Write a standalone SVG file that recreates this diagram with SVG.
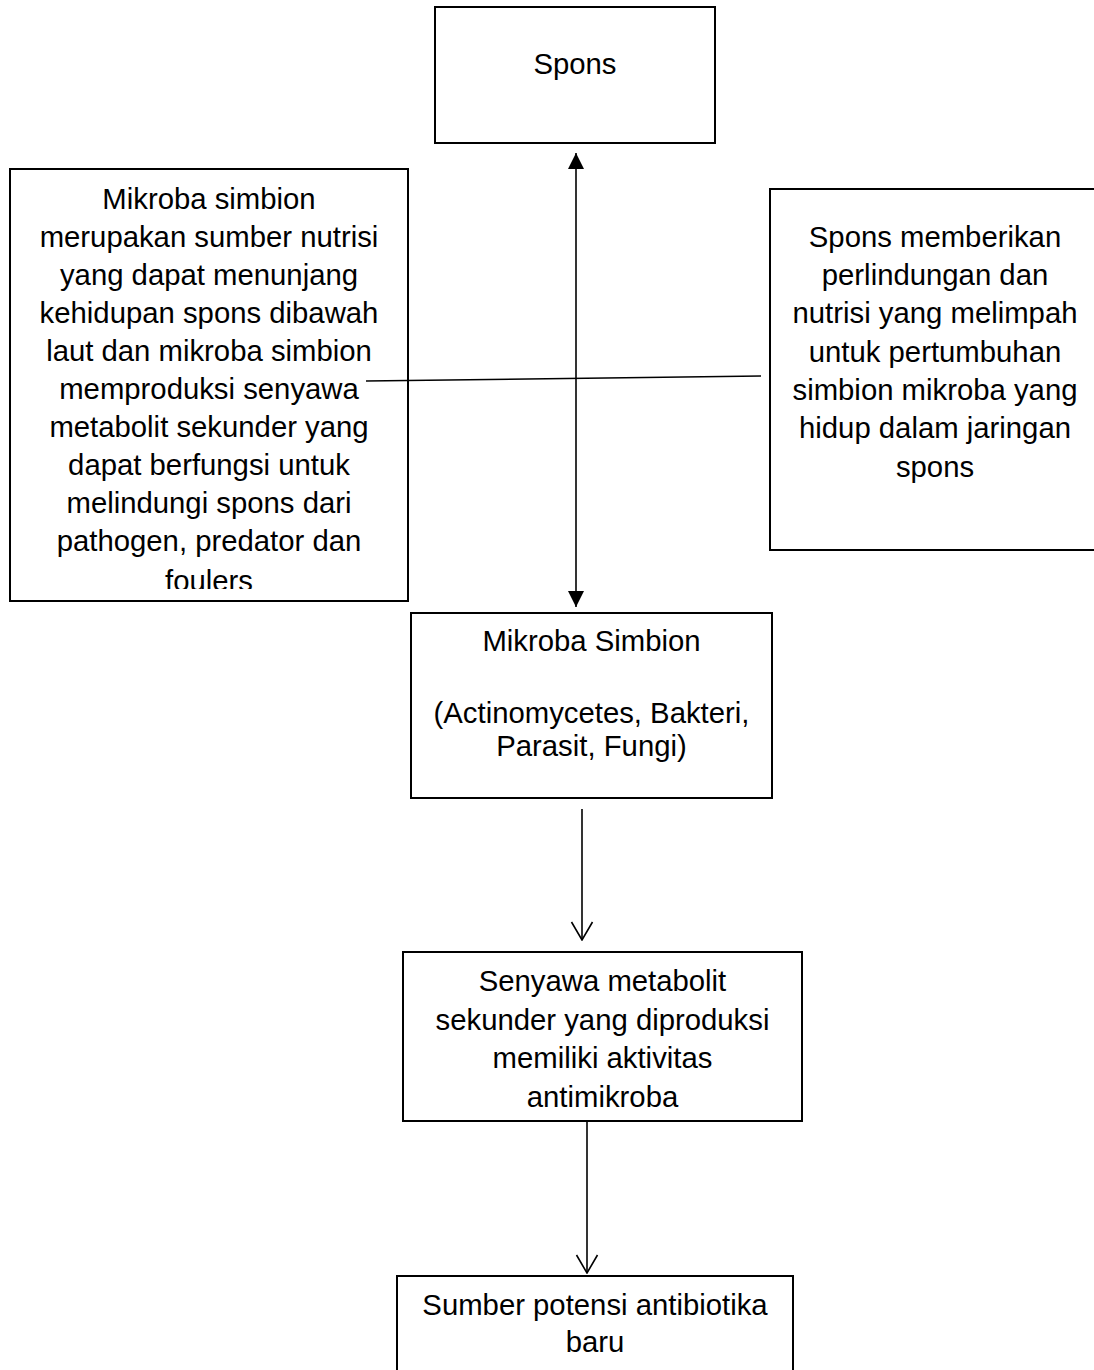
<svg xmlns="http://www.w3.org/2000/svg" width="1094" height="1370" viewBox="0 0 1094 1370">
<style>
  .box { fill: #ffffff; stroke: #000000; stroke-width: 2; }
  .t { font-family: "Liberation Sans", Arial, sans-serif; font-size: 29.3px; fill: #000000; text-anchor: middle; }
  .conn { stroke: #000000; stroke-width: 1.6; fill: none; }
</style>
<defs>
  <marker id="solidHead" viewBox="0 0 16 18" refX="16" refY="9" markerWidth="16" markerHeight="18" markerUnits="userSpaceOnUse" orient="auto-start-reverse">
    <path d="M0,1 L16,9 L0,17 Z" fill="#000000"/>
  </marker>
  <marker id="openHead" viewBox="0 0 20 24" refX="19" refY="12" markerWidth="20" markerHeight="24" markerUnits="userSpaceOnUse" orient="auto">
    <path d="M1,1.5 L19,12 L1,22.5" fill="none" stroke="#000000" stroke-width="1.6"/>
  </marker>
  <clipPath id="leftClip">
    <rect x="10" y="169" width="398" height="420"/>
  </clipPath>
</defs>
<rect x="0" y="0" width="1094" height="1370" fill="#ffffff"/>

<g id="node-spons">
  <rect class="box" x="435" y="7" width="280" height="136"/>
  <text class="t" x="575" y="74">Spons</text>
</g>

<g id="node-left-note">
  <rect class="box" x="10" y="169" width="398" height="432"/>
  <g clip-path="url(#leftClip)">
    <text class="t" x="209" y="209">Mikroba simbion</text>
    <text class="t" x="209" y="247">merupakan sumber nutrisi</text>
    <text class="t" x="209" y="285">yang dapat menunjang</text>
    <text class="t" x="209" y="323">kehidupan spons dibawah</text>
    <text class="t" x="209" y="361">laut dan mikroba simbion</text>
    <text class="t" x="209" y="399">memproduksi senyawa</text>
    <text class="t" x="209" y="437">metabolit sekunder yang</text>
    <text class="t" x="209" y="475">dapat berfungsi untuk</text>
    <text class="t" x="209" y="513">melindungi spons dari</text>
    <text class="t" x="209" y="551">pathogen, predator dan</text>
    <text class="t" x="209" y="591">foulers</text>
  </g>
</g>

<g id="node-right-note">
  <rect class="box" x="770" y="189" width="330" height="361"/>
  <text class="t" x="935" y="247">Spons memberikan</text>
  <text class="t" x="935" y="285">perlindungan dan</text>
  <text class="t" x="935" y="323">nutrisi yang melimpah</text>
  <text class="t" x="935" y="362">untuk pertumbuhan</text>
  <text class="t" x="935" y="400">simbion mikroba yang</text>
  <text class="t" x="935" y="438">hidup dalam jaringan</text>
  <text class="t" x="935" y="477">spons</text>
</g>

<g id="node-mikroba">
  <rect class="box" x="411" y="613" width="361" height="185"/>
  <text class="t" x="591.5" y="651">Mikroba Simbion</text>
  <text class="t" x="591.5" y="723">(Actinomycetes, Bakteri,</text>
  <text class="t" x="591.5" y="756">Parasit, Fungi)</text>
</g>

<g id="node-senyawa">
  <rect class="box" x="403" y="952" width="399" height="169"/>
  <text class="t" x="602.5" y="991">Senyawa metabolit</text>
  <text class="t" x="602.5" y="1030">sekunder yang diproduksi</text>
  <text class="t" x="602.5" y="1068">memiliki aktivitas</text>
  <text class="t" x="602.5" y="1107">antimikroba</text>
</g>

<g id="node-sumber">
  <rect class="box" x="397" y="1276" width="396" height="110"/>
  <text class="t" x="595" y="1315">Sumber potensi antibiotika</text>
  <text class="t" x="595" y="1352">baru</text>
</g>

<g id="connectors">
  <line class="conn" x1="576" y1="153" x2="576" y2="607" marker-start="url(#solidHead)" marker-end="url(#solidHead)"/>
  <polyline class="conn" points="366,381 761,376"/>
  <line class="conn" x1="582" y1="809" x2="582" y2="940" marker-end="url(#openHead)"/>
  <line class="conn" x1="587" y1="1122" x2="587" y2="1273" marker-end="url(#openHead)"/>
</g>
</svg>
